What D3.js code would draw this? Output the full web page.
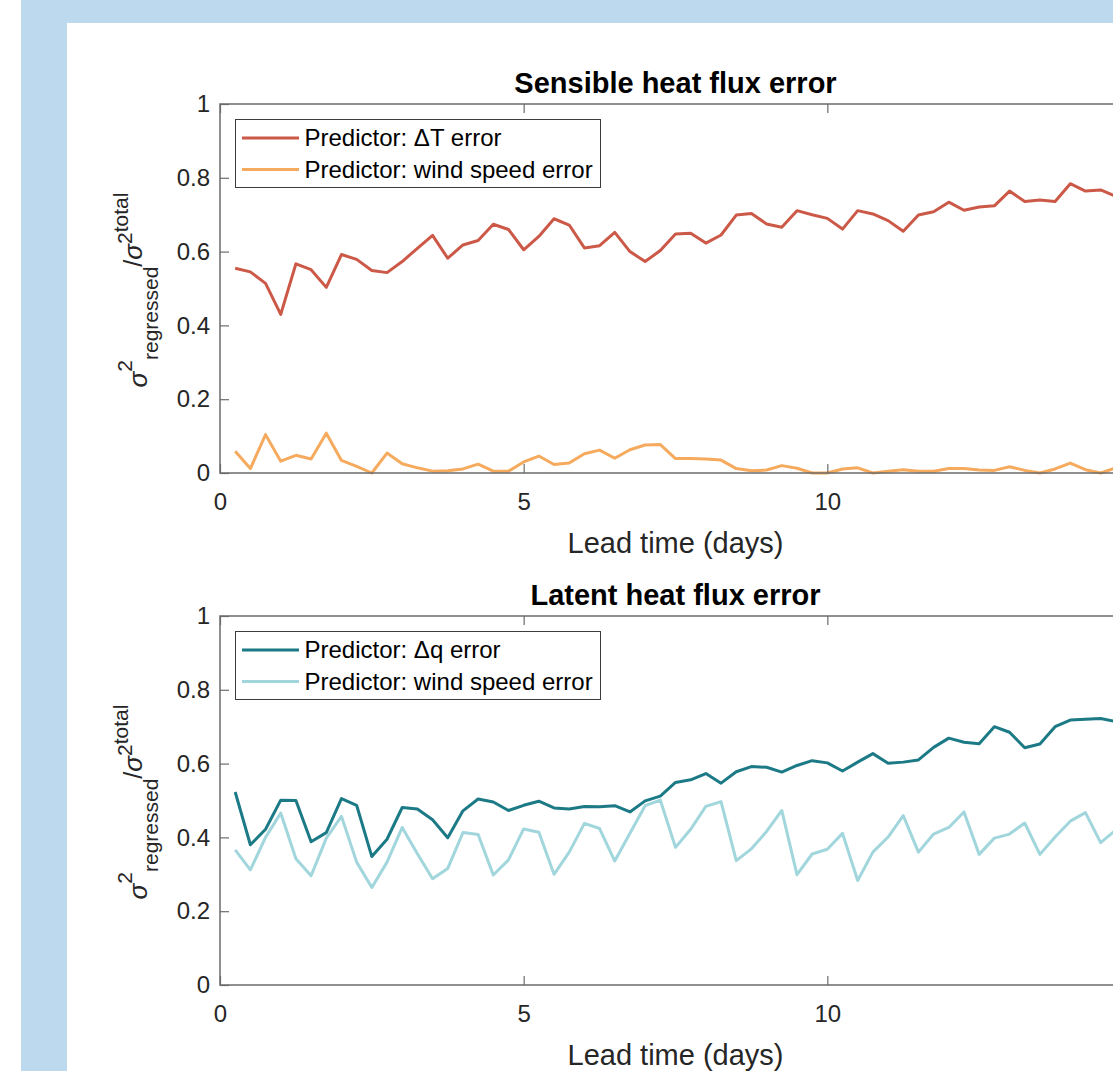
<!DOCTYPE html>
<html>
<head>
<meta charset="utf-8">
<script src="https://cdn.jsdelivr.net/npm/d3@7"></script>
<style>
  html, body { margin: 0; padding: 0; background: white; }
  svg { display: block; font-family: "Liberation Sans", Arial, sans-serif; }
</style>
</head>
<body>
<svg id="chart"></svg>
<script>
// lead time (days) of each sample
const leadDays = [0.25, 0.5, 0.75, 1, 1.25, 1.5, 1.75, 2, 2.25, 2.5, 2.75, 3, 3.25, 3.5, 3.75, 4,
    4.25, 4.5, 4.75, 5, 5.25, 5.5, 5.75, 6, 6.25, 6.5, 6.75, 7, 7.25, 7.5, 7.75, 8,
    8.25, 8.5, 8.75, 9, 9.25, 9.5, 9.75, 10, 10.25, 10.5, 10.75, 11, 11.25, 11.5, 11.75, 12,
    12.25, 12.5, 12.75, 13, 13.25, 13.5, 13.75, 14, 14.25, 14.5, 14.75];

// sensible heat flux panel
const sensibleDT = [0.555, 0.545, 0.514, 0.430, 0.567, 0.551, 0.503, 0.592, 0.579, 0.549,
    0.543, 0.573, 0.609, 0.644, 0.582, 0.618, 0.630, 0.674, 0.660, 0.605,
    0.641, 0.689, 0.672, 0.610, 0.616, 0.652, 0.600, 0.573,
    0.603, 0.648, 0.650, 0.623, 0.645, 0.699, 0.703, 0.675, 0.666, 0.711,
    0.700, 0.690, 0.661, 0.711, 0.702, 0.684, 0.655, 0.699, 0.708, 0.734,
    0.712, 0.721, 0.724, 0.764, 0.736, 0.740, 0.736, 0.784, 0.764, 0.767, 0.750];
const sensibleWind = [0.059, 0.012, 0.104, 0.032, 0.048, 0.038, 0.108, 0.034, 0.018, 0.000,
    0.054, 0.025, 0.014, 0.005, 0.006, 0.011, 0.024, 0.005, 0.005, 0.030,
    0.046, 0.023, 0.027, 0.052, 0.062, 0.040, 0.063, 0.076,
    0.077, 0.039, 0.039, 0.038, 0.035, 0.012, 0.006, 0.008, 0.020, 0.013,
    0.000, 0.000, 0.011, 0.014, 0.000, 0.005, 0.009, 0.005, 0.005, 0.012,
    0.012, 0.008, 0.007, 0.017, 0.007, 0.000, 0.011, 0.027, 0.009, 0.000, 0.014];

// latent heat flux panel
const latentDq = [0.523, 0.380, 0.422, 0.501, 0.500, 0.388, 0.413, 0.505, 0.487, 0.348,
    0.395, 0.481, 0.477, 0.448, 0.399, 0.472, 0.504, 0.496, 0.473, 0.487,
    0.498, 0.480, 0.477, 0.484, 0.483, 0.486, 0.469, 0.499,
    0.512, 0.549, 0.556, 0.573, 0.547, 0.578, 0.592, 0.590, 0.577, 0.595,
    0.608, 0.602, 0.580, 0.604, 0.627, 0.601, 0.604, 0.610, 0.644, 0.669,
    0.658, 0.654, 0.700, 0.685, 0.643, 0.653, 0.700, 0.718, 0.720, 0.722, 0.714];
const latentWind = [0.366, 0.312, 0.400, 0.466, 0.342, 0.296, 0.398, 0.457, 0.333, 0.264,
    0.333, 0.427, 0.356, 0.288, 0.316, 0.413, 0.408, 0.298, 0.339, 0.423,
    0.414, 0.300, 0.360, 0.438, 0.424, 0.336, 0.411, 0.486,
    0.501, 0.373, 0.422, 0.484, 0.497, 0.337, 0.369, 0.416, 0.473, 0.299,
    0.355, 0.368, 0.411, 0.283, 0.360, 0.401, 0.459, 0.360, 0.409, 0.427,
    0.469, 0.354, 0.398, 0.409, 0.439, 0.354, 0.401, 0.444, 0.467, 0.386, 0.420];

const xTicks = [0, 5, 10];
const yTicks = [0, 0.2, 0.4, 0.6, 0.8, 1];

const panelTitles = ["Sensible heat flux error", "Latent heat flux error"];
const legendLabels = [
    ["Predictor: \u0394T error", "Predictor: wind speed error"],
    ["Predictor: \u0394q error", "Predictor: wind speed error"]
];
const seriesColors = [["#cc5947", "#f5aa5e"], ["#1b7a85", "#a0d6dc"]];
const panelSeries = [[sensibleDT, sensibleWind], [latentDq, latentWind]];

const width = 1113, height = 1071;
const svg = d3.select("#chart").attr("width", width).attr("height", height);

// light blue frame behind the white figure
svg.append("rect").attr("x", 21).attr("y", 0).attr("width", width - 21).attr("height", height).attr("fill", "#bdd9ee");
svg.append("rect").attr("x", 67).attr("y", 23).attr("width", width).attr("height", height).attr("fill", "white");

// axes run to 15 days, just past the right edge of the picture
const axLeft = 220, axRight = 1131;
const xScale = d3.scaleLinear().domain([0, 15]).range([axLeft, axRight]);
const axisColor = "#6b6b6b";
const textColor = "#262626";

// sigma^2_regressed / sigma^2_total, drawn rotated
const drawYLabel = (g, cx, cy) => {
    const pieces = [
        { t: "\u03c3", size: 26, base: 0, italic: true },
        { t: "2", size: 21, base: -15 },
        { t: "regressed", size: 21, base: 11 },
        { t: "/", size: 25, base: -5 },
        { t: "\u03c3", size: 26, base: -5, italic: true },
        { t: "2", size: 21, base: -15 },
        { t: "total", size: 21, base: -19 }
    ];
    const lab = g.append("g").attr("transform", `translate(${cx},${cy}) rotate(-90)`);
    const txt = lab.append("text").attr("fill", textColor).attr("x", 0).attr("y", 0);
    let prevBase = 0;
    pieces.forEach((p) => {
        txt.append("tspan")
            .attr("dy", p.base - prevBase)
            .style("font-size", p.size + "px")
            .style("font-style", p.italic ? "italic" : "normal")
            .text(p.t);
        prevBase = p.base;
    });
    const len = txt.node().getComputedTextLength();
    txt.attr("x", -len / 2);
};

const drawPanel = (idx, top, bottom) => {
    const yScale = d3.scaleLinear().domain([0, 1]).range([bottom, top]);
    const g = svg.append("g").attr("class", "panel");

    // data lines
    const line = d3.line()
        .x((d, i) => xScale(leadDays[i]))
        .y((d) => yScale(d));
    panelSeries[idx].forEach((vals, s) => {
        g.append("path")
            .datum(vals)
            .attr("d", line)
            .attr("fill", "none")
            .attr("stroke", seriesColors[idx][s])
            .attr("stroke-width", 3)
            .attr("stroke-linejoin", "round");
    });

    // axes (ticks point inward, matlab style)
    const xAxis = d3.axisBottom(xScale).tickValues(xTicks).tickSize(-9).tickPadding(20).tickFormat(d3.format("d"));
    const xAxisTop = d3.axisTop(xScale).tickValues(xTicks).tickSize(-9).tickFormat("");
    const yAxis = d3.axisLeft(yScale).tickValues(yTicks).tickSize(-9).tickPadding(10).tickFormat(d3.format("~g"));

    const gx = g.append("g").attr("transform", `translate(0,${bottom})`).call(xAxis);
    const gxt = g.append("g").attr("transform", `translate(0,${top})`).call(xAxisTop);
    const gy = g.append("g").attr("transform", `translate(${axLeft},0)`).call(yAxis);
    [gx, gxt, gy].forEach((a) => {
        a.select(".domain").remove();
        a.selectAll(".tick line").attr("stroke", axisColor).attr("stroke-width", 1.2);
        a.selectAll(".tick text").attr("fill", textColor).style("font-size", "24px").style("font-family", "Liberation Sans, Arial, sans-serif");
    });

    // axes box
    g.append("rect")
        .attr("x", axLeft).attr("y", top)
        .attr("width", axRight - axLeft).attr("height", bottom - top)
        .attr("fill", "none").attr("stroke", axisColor).attr("stroke-width", 1.5);

    // title
    g.append("text")
        .attr("x", (axLeft + axRight) / 2)
        .attr("y", top - 11)
        .attr("text-anchor", "middle")
        .attr("fill", "#000")
        .style("font-size", "29px")
        .style("font-weight", "bold")
        .text(panelTitles[idx]);

    // x label
    g.append("text")
        .attr("x", (axLeft + axRight) / 2)
        .attr("y", bottom + 80)
        .attr("text-anchor", "middle")
        .attr("fill", textColor)
        .style("font-size", "29px")
        .text("Lead time (days)");

    drawYLabel(g, 147, (top + bottom) / 2 + 1.5);

    // legend
    const lg = g.append("g").attr("transform", `translate(${axLeft + 15.5},${top + 15.5})`);
    lg.append("rect")
        .attr("width", 365).attr("height", 68)
        .attr("fill", "white").attr("stroke", "#3c3c3c").attr("stroke-width", 1);
    legendLabels[idx].forEach((lbl, s) => {
        const ly = 18.5 + s * 31.5;
        lg.append("line")
            .attr("x1", 6.5).attr("x2", 63.5)
            .attr("y1", ly).attr("y2", ly)
            .attr("stroke", seriesColors[idx][s])
            .attr("stroke-width", 3);
        lg.append("text")
            .attr("x", 69)
            .attr("y", ly)
            .attr("dy", "0.35em")
            .attr("fill", "#000")
            .style("font-size", "24px")
            .text(lbl);
    });
};

drawPanel(0, 104, 473);
drawPanel(1, 616, 985);
</script>
</body>
</html>
